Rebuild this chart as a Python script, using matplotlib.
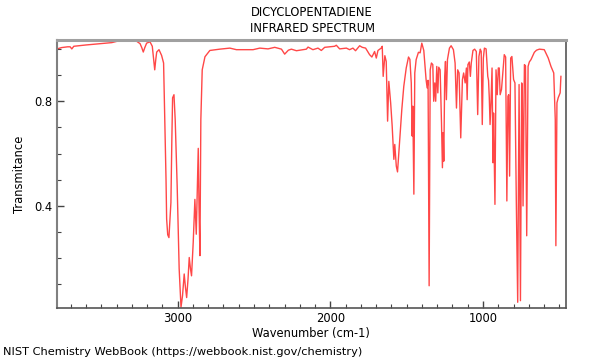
import matplotlib
matplotlib.use("Agg")
import matplotlib.pyplot as plt
from matplotlib.ticker import MultipleLocator

title_lines = ["DICYCLOPENTADIENE", "INFRARED SPECTRUM"]
x_label = "Wavenumber (cm-1)"
y_label = "Transmitance"
footer = "NIST Chemistry WebBook (https://webbook.nist.gov/chemistry)"

wavenumber = [
    3790, 3760, 3720, 3704, 3693, 3680, 3600, 3508, 3431, 3377, 3300, 3268, 3246, 3235, 3225,
    3215, 3203, 3181, 3166, 3157, 3150, 3143, 3137, 3122, 3105, 3092, 3083, 3076, 3072, 3065,
    3057, 3050, 3044, 3038, 3033, 3024, 3016, 3003, 2990, 2978, 2968, 2957, 2949, 2941, 2932,
    2924, 2916, 2909, 2898, 2887, 2878, 2872, 2865, 2860, 2854, 2848, 2839, 2821, 2789, 2724,
    2658, 2615, 2506, 2462, 2408, 2364, 2320, 2299, 2275, 2255, 2222, 2157, 2146, 2114, 2081,
    2059, 2037, 1972, 1961, 1939, 1895, 1874, 1852, 1835, 1808, 1791, 1769, 1743, 1728, 1710,
    1699, 1688, 1667, 1660, 1654, 1643, 1634, 1625, 1617, 1605, 1595, 1584, 1578, 1568, 1560,
    1547, 1532, 1519, 1503, 1488, 1479, 1470, 1464, 1460, 1453, 1447, 1438, 1423, 1412, 1401,
    1388, 1373, 1366, 1360, 1353, 1346, 1338, 1329, 1323, 1316, 1310, 1303, 1296, 1290, 1281,
    1272, 1266, 1261, 1257, 1251, 1246, 1240, 1233, 1220, 1209, 1194, 1183, 1174, 1166, 1157,
    1146, 1135, 1127, 1117, 1109, 1104, 1099, 1090, 1083, 1077, 1066, 1055, 1044, 1035, 1027,
    1018, 1012, 1005, 998, 991, 980, 969, 964, 959, 954, 948, 941, 935, 931, 922,
    915, 907, 900, 894, 888, 879, 870, 861, 852, 844, 837, 832, 826, 819, 811,
    800, 791, 782, 773, 764, 755, 747, 743, 738, 729, 722, 714, 705, 697, 686,
    664, 650, 631, 599, 573, 555, 537, 527, 523, 516, 508, 495, 490,
]
transmittance = [
    1.000, 1.005, 1.008, 1.008, 1.000, 1.010, 1.015, 1.020, 1.024, 1.032, 1.031, 1.029, 1.020, 1.005, 0.988,
    1.005, 1.022, 1.027, 1.010, 0.960, 0.920, 0.960, 0.988, 0.997, 0.975, 0.946, 0.705, 0.500, 0.350, 0.290,
    0.279, 0.350, 0.413, 0.650, 0.813, 0.825, 0.730, 0.476, 0.160, 0.013, 0.057, 0.140, 0.090, 0.050, 0.120,
    0.203, 0.160, 0.133, 0.260, 0.425, 0.292, 0.450, 0.620, 0.400, 0.210, 0.730, 0.920, 0.970, 0.994, 0.999,
    1.003, 0.997, 0.997, 1.003, 1.000, 1.006, 0.999, 0.980, 0.995, 0.999, 0.993, 0.999, 1.007, 0.997, 1.003,
    0.994, 1.006, 1.010, 1.014, 1.000, 1.003, 0.997, 1.003, 0.993, 1.012, 1.006, 1.003, 0.978, 0.969, 0.990,
    0.965, 0.994, 1.003, 1.010, 0.895, 0.974, 0.952, 0.724, 0.876, 0.794, 0.705, 0.578, 0.635, 0.552, 0.530,
    0.641, 0.768, 0.857, 0.927, 0.969, 0.960, 0.870, 0.667, 0.781, 0.445, 0.908, 0.959, 0.987, 0.985, 1.022,
    0.994, 0.883, 0.851, 0.880, 0.095, 0.920, 0.946, 0.940, 0.800, 0.870, 0.800, 0.933, 0.832, 0.930, 0.920,
    0.717, 0.546, 0.680, 0.571, 0.895, 0.952, 0.806, 0.959, 1.003, 1.012, 0.997, 0.946, 0.774, 0.920, 0.908,
    0.660, 0.883, 0.908, 0.870, 0.927, 0.806, 0.940, 0.950, 0.895, 0.946, 0.994, 0.999, 0.990, 0.749, 0.971,
    0.999, 0.990, 0.711, 0.965, 1.003, 1.000, 0.895, 0.880, 0.813, 0.711, 0.794, 0.927, 0.565, 0.755, 0.406,
    0.920, 0.825, 0.927, 0.927, 0.825, 0.845, 0.914, 0.978, 0.969, 0.419, 0.819, 0.825, 0.514, 0.965, 0.971,
    0.883, 0.870, 0.413, 0.032, 0.864, 0.038, 0.870, 0.860, 0.400, 0.940, 0.935, 0.286, 0.933, 0.950, 0.959,
    0.987, 0.995, 0.999, 0.997, 0.965, 0.933, 0.908, 0.730, 0.248, 0.794, 0.813, 0.832, 0.895,
]

x_range = (3790, 458)
y_range = (0.010, 1.034)

fig = plt.figure(figsize=(6, 3.6), dpi=100)
ax = fig.add_axes([0.095, 0.1444, 0.848, 0.7445])
ax.plot(wavenumber, transmittance, color="#ff0000", alpha=0.72, lw=1.0)
ax.set_xlim(*x_range)
ax.set_ylim(*y_range)

ax.xaxis.set_major_locator(MultipleLocator(1000))
ax.xaxis.set_minor_locator(MultipleLocator(100))
ax.yaxis.set_major_locator(MultipleLocator(0.4))
ax.yaxis.set_minor_locator(MultipleLocator(0.1))
ax.tick_params(which="both", direction="in", top=False, right=False, labelsize=8.3,
               color="#444444", pad=3)
ax.tick_params(which="major", length=5, width=1)
ax.tick_params(which="minor", length=3, width=0.8)

ax.spines["top"].set_color("#a0a0a0")
ax.spines["top"].set_linewidth(2.2)
ax.spines["left"].set_color("#808080")
ax.spines["left"].set_linewidth(1.5)
ax.spines["bottom"].set_color("#555555")
ax.spines["bottom"].set_linewidth(1.2)
ax.spines["right"].set_color("#555555")
ax.spines["right"].set_linewidth(1.2)

ax.set_xlabel(x_label, fontsize=8.3, labelpad=1)
ax.set_ylabel(y_label, fontsize=8.3, labelpad=6)

fig.text(0.52, 1 - 12 / 360, title_lines[0], ha="center", va="center", fontsize=8.3)
fig.text(0.52, 1 - 29 / 360, title_lines[1], ha="center", va="center", fontsize=8.3)
fig.text(0.005, 1 - 352 / 360, footer, ha="left", va="center", fontsize=8.2)

fig.savefig("out.png", dpi=100)
